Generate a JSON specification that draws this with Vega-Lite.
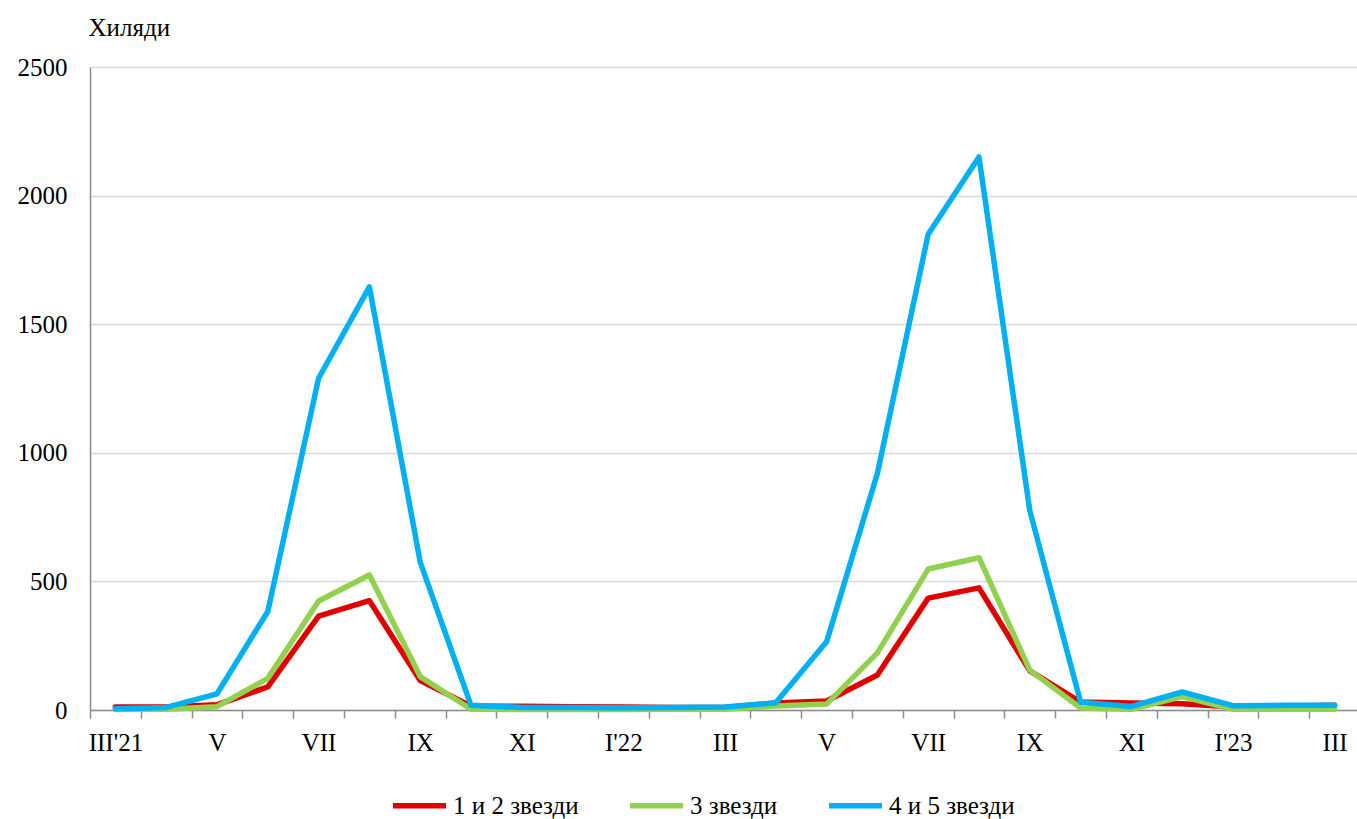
{
  "$schema": "https://vega.github.io/schema/vega-lite/v6.json",
  "width": 1270,
  "height": 643,
  "autosize": "none",
  "padding": {"left": 90, "top": 67, "right": 0, "bottom": 109},
  "background": "white",
  "config": {
    "view": {"stroke": null},
    "font": "Liberation Serif",
    "axis": {"labelFont": "Liberation Serif", "titleFont": "Liberation Serif", "labelColor": "black", "titleColor": "black"},
    "legend": {"labelFont": "Liberation Serif"}
  },
  "data": {
    "values": [
      {"m": 0, "s": "1 и 2 звезди", "v": 12}, {"m": 1, "s": "1 и 2 звезди", "v": 12}, {"m": 2, "s": "1 и 2 звезди", "v": 20}, {"m": 3, "s": "1 и 2 звезди", "v": 90}, {"m": 4, "s": "1 и 2 звезди", "v": 365}, {"m": 5, "s": "1 и 2 звезди", "v": 425}, {"m": 6, "s": "1 и 2 звезди", "v": 115}, {"m": 7, "s": "1 и 2 звезди", "v": 15}, {"m": 8, "s": "1 и 2 звезди", "v": 15}, {"m": 9, "s": "1 и 2 звезди", "v": 13}, {"m": 10, "s": "1 и 2 звезди", "v": 12}, {"m": 11, "s": "1 и 2 звезди", "v": 10}, {"m": 12, "s": "1 и 2 звезди", "v": 10}, {"m": 13, "s": "1 и 2 звезди", "v": 27}, {"m": 14, "s": "1 и 2 звезди", "v": 35}, {"m": 15, "s": "1 и 2 звезди", "v": 136}, {"m": 16, "s": "1 и 2 звезди", "v": 435}, {"m": 17, "s": "1 и 2 звезди", "v": 475}, {"m": 18, "s": "1 и 2 звезди", "v": 152}, {"m": 19, "s": "1 и 2 звезди", "v": 31}, {"m": 20, "s": "1 и 2 звезди", "v": 27}, {"m": 21, "s": "1 и 2 звезди", "v": 24}, {"m": 22, "s": "1 и 2 звезди", "v": 12}, {"m": 23, "s": "1 и 2 звезди", "v": 15}, {"m": 24, "s": "1 и 2 звезди", "v": 18},
      {"m": 0, "s": "3 звезди", "v": 3}, {"m": 1, "s": "3 звезди", "v": 3}, {"m": 2, "s": "3 звезди", "v": 13}, {"m": 3, "s": "3 звезди", "v": 123}, {"m": 4, "s": "3 звезди", "v": 424}, {"m": 5, "s": "3 звезди", "v": 525}, {"m": 6, "s": "3 звезди", "v": 130}, {"m": 7, "s": "3 звезди", "v": 3}, {"m": 8, "s": "3 звезди", "v": 2}, {"m": 9, "s": "3 звезди", "v": 2}, {"m": 10, "s": "3 звезди", "v": 2}, {"m": 11, "s": "3 звезди", "v": 3}, {"m": 12, "s": "3 звезди", "v": 3}, {"m": 13, "s": "3 звезди", "v": 16}, {"m": 14, "s": "3 звезди", "v": 23}, {"m": 15, "s": "3 звезди", "v": 222}, {"m": 16, "s": "3 звезди", "v": 548}, {"m": 17, "s": "3 звезди", "v": 592}, {"m": 18, "s": "3 звезди", "v": 155}, {"m": 19, "s": "3 звезди", "v": 8}, {"m": 20, "s": "3 звезди", "v": 3}, {"m": 21, "s": "3 звезди", "v": 52}, {"m": 22, "s": "3 звезди", "v": 3}, {"m": 23, "s": "3 звезди", "v": 3}, {"m": 24, "s": "3 звезди", "v": 3},
      {"m": 0, "s": "4 и 5 звезди", "v": 5}, {"m": 1, "s": "4 и 5 звезди", "v": 10}, {"m": 2, "s": "4 и 5 звезди", "v": 63}, {"m": 3, "s": "4 и 5 звезди", "v": 383}, {"m": 4, "s": "4 и 5 звезди", "v": 1290}, {"m": 5, "s": "4 и 5 звезди", "v": 1645}, {"m": 6, "s": "4 и 5 звезди", "v": 575}, {"m": 7, "s": "4 и 5 звезди", "v": 18}, {"m": 8, "s": "4 и 5 звезди", "v": 10}, {"m": 9, "s": "4 и 5 звезди", "v": 10}, {"m": 10, "s": "4 и 5 звезди", "v": 9}, {"m": 11, "s": "4 и 5 звезди", "v": 10}, {"m": 12, "s": "4 и 5 звезди", "v": 12}, {"m": 13, "s": "4 и 5 звезди", "v": 28}, {"m": 14, "s": "4 и 5 звезди", "v": 265}, {"m": 15, "s": "4 и 5 звезди", "v": 920}, {"m": 16, "s": "4 и 5 звезди", "v": 1850}, {"m": 17, "s": "4 и 5 звезди", "v": 2150}, {"m": 18, "s": "4 и 5 звезди", "v": 775}, {"m": 19, "s": "4 и 5 звезди", "v": 30}, {"m": 20, "s": "4 и 5 звезди", "v": 14}, {"m": 21, "s": "4 и 5 звезди", "v": 70}, {"m": 22, "s": "4 и 5 звезди", "v": 17}, {"m": 23, "s": "4 и 5 звезди", "v": 18}, {"m": 24, "s": "4 и 5 звезди", "v": 18}
    ]
  },
  "mark": {"type": "line", "strokeWidth": 5.5, "strokeJoin": "round", "strokeCap": "round"},
  "encoding": {
    "x": {
      "field": "m",
      "type": "ordinal",
      "scale": {"paddingInner": 0, "paddingOuter": 0},
      "axis": {
        "title": null,
        "labelAngle": 0,
        "labelExpr": "[\"III'21\",\"\",\"V\",\"\",\"VII\",\"\",\"IX\",\"\",\"XI\",\"\",\"I'22\",\"\",\"III\",\"\",\"V\",\"\",\"VII\",\"\",\"IX\",\"\",\"XI\",\"\",\"I'23\",\"\",\"III\"][datum.value]",
        "tickBand": "extent",
        "tickSize": 8,
        "tickColor": "#8c8c8c",
        "tickWidth": 1.5,
        "domainColor": "#8c8c8c",
        "domainWidth": 1.5,
        "labelFontSize": 25,
        "labelPadding": 12,
        "labelBaseline": "top",
        "labelOverlap": false,
        "grid": false
      }
    },
    "y": {
      "field": "v",
      "type": "quantitative",
      "scale": {"domain": [0, 2500]},
      "axis": {
        "values": [0, 500, 1000, 1500, 2000, 2500],
        "format": "d",
        "title": "Хиляди",
        "titleAngle": 0,
        "titleAlign": "left",
        "titleBaseline": "middle",
        "titleX": -2,
        "titleY": -40,
        "titleFontSize": 25,
        "titleFontWeight": "normal",
        "labelFontSize": 25,
        "labelPadding": 23,
        "ticks": false,
        "domainColor": "#8c8c8c",
        "domainWidth": 1.5,
        "grid": true,
        "gridColor": "#d9d9d9",
        "gridWidth": 1.5
      }
    },
    "color": {
      "field": "s",
      "type": "nominal",
      "scale": {"domain": ["1 и 2 звезди", "3 звезди", "4 и 5 звезди"], "range": ["#e00000", "#92d050", "#00b0f0"]},
      "legend": {
        "title": null,
        "orient": "none",
        "direction": "horizontal",
        "legendX": 300,
        "legendY": 709,
        "symbolType": "stroke",
        "symbolSize": 2809,
        "symbolStrokeWidth": 5.5,
        "labelFontSize": 25,
        "labelOffset": 4,
        "columnPadding": 40,
        "labelColor": "black"
      }
    }
  }
}
